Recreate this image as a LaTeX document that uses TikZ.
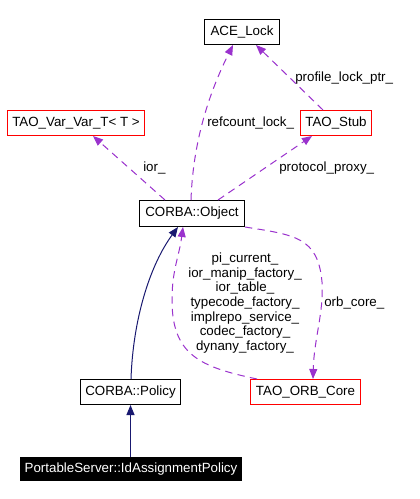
\documentclass[tikz,border=0pt]{standalone}
\usepackage{fontspec}
\setmainfont{Liberation Sans}
\usetikzlibrary{arrows.meta}
\definecolor{edgepurple}{HTML}{9A32CD}
\definecolor{edgenavy}{HTML}{191970}
\tikzset{
  cls/.style={draw=black, line width=0.75pt, rectangle, inner xsep=2pt, inner ysep=0pt, minimum height=18.75pt, font=\fontsize{10}{12}\selectfont},
  redcls/.style={cls, draw=red},
  curcls/.style={cls, fill=black, text=white},
  uses/.style={draw=edgepurple, line width=0.75pt, dash pattern=on 5.5pt off 4pt, -{Triangle[length=7.5pt, width=6pt]}},
  inherit/.style={draw=edgenavy, line width=0.75pt, -{Triangle[length=7.5pt, width=6pt]}},
  lbl/.style={inner sep=0pt, font=\fontsize{10}{11}\selectfont},
}
\begin{document}
\begin{tikzpicture}[x=0.75pt, y=-0.75pt]
\useasboundingbox (0,0) rectangle (419,499);
% nodes
\node[cls, minimum width=56.25pt] (ace) at (242,32) {ACE\_Lock};
\node[redcls, minimum width=102.75pt] (var) at (76,123) {TAO\_Var\_Var\_T< T >};
\node[redcls, minimum width=53.25pt] (stub) at (336,123) {TAO\_Stub};
\node[cls, minimum width=78.75pt, minimum height=19.5pt] (obj) at (192,213.5) {CORBA::Object};
\node[cls, minimum width=75pt] (pol) at (130.5,392) {CORBA::Policy};
\node[redcls, minimum width=82.5pt] (orb) at (305.5,392) {TAO\_ORB\_Core};
\node[curcls, minimum width=165.75pt, minimum height=17.25pt] (ps) at (131,469) {PortableServer::IdAssignmentPolicy};
% inheritance
\draw[inherit] (ps.north -| pol.south) -- (pol.south);
\draw[inherit] ([shift={(0.5,0)}]pol.north) .. controls +(2,-60) and +(-28,38) .. ([shift={(-14,0)}]obj.south);
% usage
\draw[uses] ([shift={(-1,0)}]obj.north) .. controls +(2,-60) and +(-23,46) .. ([shift={(-9,0)}]ace.south);
\draw[uses] ([shift={(-13,0)}]stub.north) -- ([shift={(14,0)}]ace.south);
\draw[uses] ([shift={(-27,0)}]obj.north) -- ([shift={(17,0)}]var.south);
\draw[uses] ([shift={(26,0)}]obj.north) -- ([shift={(-24,0)}]stub.south);
\draw[uses] (obj.south east) .. controls +(50,8) and +(-4,-45) .. (322,282) .. controls +(2,30) and +(1,-40) .. ([shift={(7.5,0)}]orb.north);
\draw[uses] ([shift={(-48.5,0)}]orb.north) .. controls +(-57,-12) and +(0,55) .. (172,300) .. controls +(0,-30) and +(-4,30) .. ([shift={(-9,0)}]obj.south);
% labels
\node[lbl, anchor=west] (l1) at (207,123) {refcount\_lock\_};
\node[lbl, anchor=west] (l2) at (295,78) {profile\_lock\_ptr\_};
\node[lbl, anchor=west] (l3) at (143,168) {ior\_};
\node[lbl, anchor=west] (l4) at (279,168) {protocol\_proxy\_};
\node[lbl, anchor=west] (l5) at (324,303) {orb\_core\_};
\node[lbl, align=center, font=\fontsize{10}{10.95}\selectfont] (l6) at (245,303) {pi\_current\_\\ior\_manip\_factory\_\\ior\_table\_\\typecode\_factory\_\\implrepo\_service\_\\codec\_factory\_\\dynany\_factory\_};
\end{tikzpicture}
\end{document}
